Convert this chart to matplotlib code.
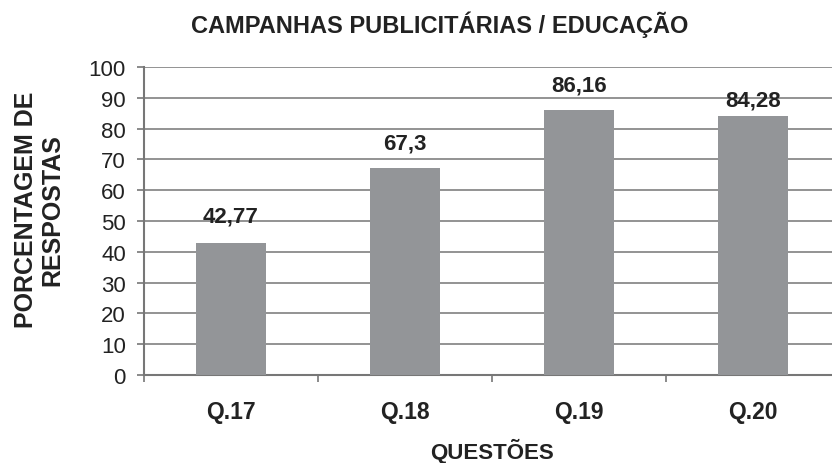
import matplotlib
matplotlib.use('Agg')
import matplotlib.pyplot as plt

questoes = ["Q.17", "Q.18", "Q.19", "Q.20"]
porcentagem = [42.77, 67.3, 86.16, 84.28]
rotulos = ["42,77", "67,3", "86,16", "84,28"]

plt.rcParams['font.family'] = ['Liberation Sans', 'DejaVu Sans']

fig = plt.figure(figsize=(8.32, 4.64), dpi=100)
# o eixo continua além da borda direita, como no original recortado
ax = fig.add_axes([0.173, 0.19, 0.8365, 0.663])

x = range(len(questoes))
ax.bar(x, porcentagem, width=0.40, color="#939598", zorder=3)
# rótulo de 84,28 fica mais baixo no original
desloc = [5.5, 4.5, 4.5, 1.5]
for i, v in enumerate(porcentagem):
    ax.text(i, v + desloc[i], rotulos[i], ha="center", va="bottom", fontsize=16, fontweight="bold", color="#222222")

ax.set_xlim(-0.5, len(questoes) - 0.5)
ax.set_ylim(0, 100)
ax.set_yticks(range(0, 101, 10))
ax.set_xticks(list(x))
ax.set_xticklabels(questoes, fontsize=16.5, fontweight="bold", color="#222222")
ax.set_xticks([i + 0.5 for i in range(-1, len(questoes))], minor=True)
ax.tick_params(axis="x", which="major", length=0, pad=18)
ax.tick_params(axis="x", which="minor", length=5, width=1.2, color="#777777")
ax.tick_params(axis="y", length=5, width=1.2, pad=8, color="#777777", labelsize=16, labelcolor="#222222")
ax.yaxis.grid(True, color="#8a8a8a", linewidth=1.3, zorder=0)

for s in ["top", "right"]:
    ax.spines[s].set_visible(False)
for s in ["left", "bottom"]:
    ax.spines[s].set_color("#777777")
    ax.spines[s].set_linewidth(1.5)

ax.set_xlabel("QUESTÕES", fontsize=16, fontweight="bold", labelpad=11, color="#222222")
ax.set_ylabel("PORCENTAGEM DE\nRESPOSTAS", fontsize=18, fontweight="bold", color="#222222", linespacing=1.1)
ax.yaxis.set_label_coords(-0.115, 0.54)
fig.suptitle("CAMPANHAS PUBLICITÁRIAS / EDUCAÇÃO", x=0.529, y=0.975, fontsize=17, fontweight="bold", color="#222222")

fig.savefig("out.png")
